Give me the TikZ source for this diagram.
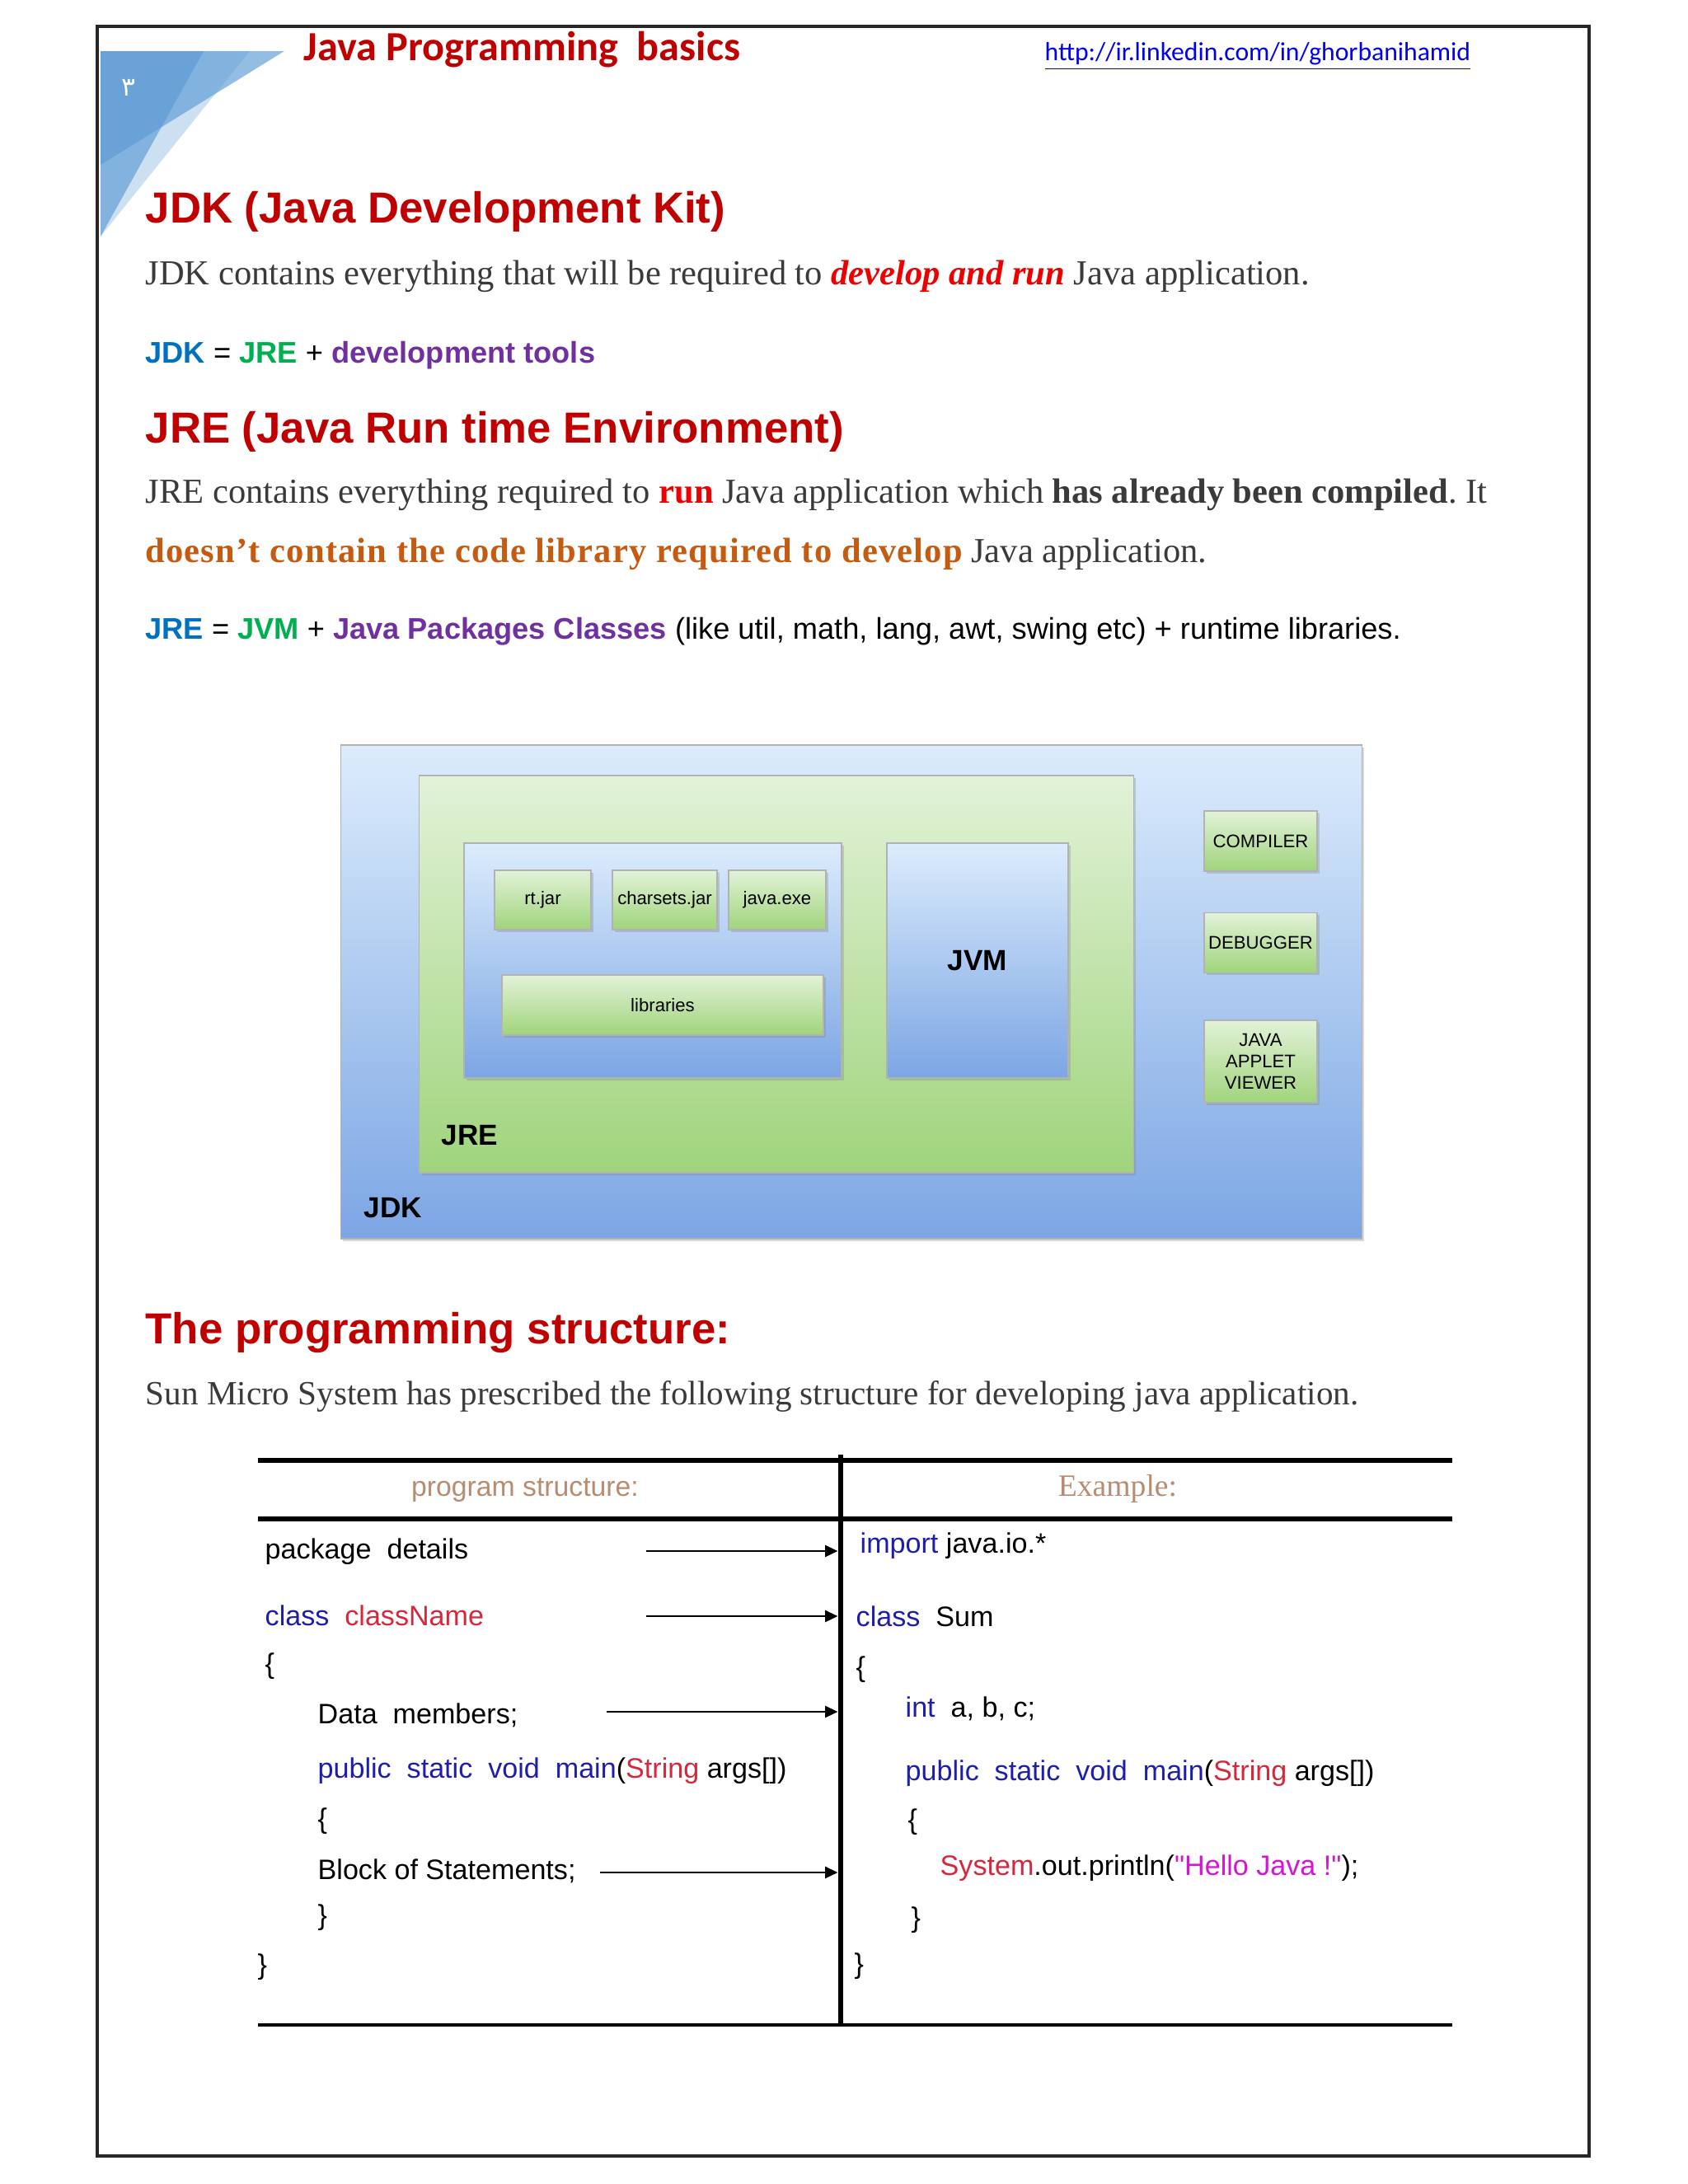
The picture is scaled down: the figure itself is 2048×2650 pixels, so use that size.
\documentclass[tikz,border=0pt]{standalone}
\usepackage{fontspec}
\setmainfont{Liberation Serif}
\setsansfont{Liberation Sans}
\newfontfamily\carlito{Carlito}
\newfontfamily\arabicfont[Script=Arabic]{DejaVu Sans}
\TeXXeTstate=1
\frenchspacing
\usetikzlibrary{arrows.meta,positioning,shadows}

\definecolor{headred}{RGB}{192,0,0}
\definecolor{brightred}{RGB}{236,0,0}
\definecolor{bodygray}{RGB}{58,58,58}
\definecolor{rustorange}{RGB}{197,90,17}
\definecolor{jdkblue}{RGB}{0,112,192}
\definecolor{jregreen}{RGB}{0,176,80}
\definecolor{toolpurple}{RGB}{112,48,160}
\definecolor{urlblue}{RGB}{0,0,238}
\definecolor{kwblue}{RGB}{30,30,170}
\definecolor{kwred}{RGB}{214,40,60}
\definecolor{strmagenta}{RGB}{214,20,214}
\definecolor{headtan}{RGB}{184,140,112}
\definecolor{skytop}{RGB}{220,236,252}
\definecolor{skybot}{RGB}{124,166,228}
\definecolor{leaftop}{RGB}{226,242,216}
\definecolor{leafbot}{RGB}{160,212,124}
\definecolor{cornerblue}{RGB}{91,155,213}

\tikzset{
  bodytext/.style={%
    anchor=base west,inner sep=0pt,
    font=\fontsize{12.1}{14}\selectfont,text=bodygray
  },
  heading/.style={%
    anchor=base west,inner sep=0pt,
    font=\sffamily\bfseries\fontsize{15}{18}\selectfont,text=headred
  },
  equation/.style={%
    anchor=base west,inner sep=0pt,
    font=\sffamily\fontsize{10.3}{12}\selectfont,text=black
  },
  skybox/.style={%
    draw=black!30,inner sep=0pt,
    top color=skytop,bottom color=skybot,
    drop shadow={shadow xshift=0.8pt,shadow yshift=-0.8pt,opacity=.3}
  },
  leafbox/.style={%
    skybox,top color=leaftop,bottom color=leafbot
  },
  tinybox/.style={%
    leafbox,align=center,
    font=\sffamily\fontsize{6.3}{7.4}\selectfont
  },
  biglabel/.style={%
    inner sep=0pt,font=\sffamily\bfseries\fontsize{10}{12}\selectfont
  },
  code/.style={%
    anchor=west,inner sep=0pt,
    font=\sffamily\fontsize{9.7}{12}\selectfont,text=black
  },
  rule/.style={line width=1.8pt,black},
  ptr/.style={line width=0.7pt,-{Triangle[length=4.4pt,width=4pt]},shorten >=1pt}
}

\begin{document}
\begin{tikzpicture}[x=0.01cm,y=-0.01cm]
\useasboundingbox (0,0) rectangle (2048,2650);
\fill[white] (0,0) rectangle (2048,2650);
\draw[line width=0.9pt,black!85] (118,32) rectangle (1928,2616);

% page corner
\fill[cornerblue,opacity=.65] (122,62) -- (345,62) -- (122,200) -- cycle;
\fill[cornerblue,opacity=.65] (122,62) -- (247,62) -- (122,287) -- cycle;
\fill[cornerblue,opacity=.3] (122,62) -- (303,62) -- (122,287) -- cycle;
\node[text=white,font=\arabicfont\fontsize{9}{10}\selectfont] (pgno) at (156,106) {\beginR ۳\endR};

\node[anchor=base west,inner sep=0pt,text=headred,font=\carlito\bfseries\fontsize{14.3}{16}\selectfont] (ttl) at (368,73) {Java Programming~ basics};
\node[anchor=base west,inner sep=0pt,text=urlblue,font=\carlito\fontsize{9}{11}\selectfont] (url) at (1267,73) {\underline{http://ir.linkedin.com/in/ghorbanihamid}};

% JDK
\node[heading] (hjdk) at (176,270) {JDK (Java Development Kit)};
\node[bodytext] (jdkline) at (176,345) {JDK contains everything that will be required to \textcolor{brightred}{\bfseries\itshape develop and run} Java application.};
\node[equation] (jdkeq) at (176,440) {\textbf{\textcolor{jdkblue}{JDK}} = \textbf{\textcolor{jregreen}{JRE}} + \textbf{\textcolor{toolpurple}{development tools}}};

% JRE
\node[heading] (hjre) at (176,537) {JRE (Java Run time Environment)};
\node[bodytext] (jreline) at (176,610) {JRE contains everything required to \textcolor{brightred}{\bfseries run} Java application which \textbf{has already been compiled}. It};
\node[bodytext] (jrelinetwo) at (176,682) {\textcolor{rustorange}{\bfseries\addfontfeature{LetterSpace=2.7}doesn’t contain the code library required to develop} Java application.};
\node[equation] (jreeq) at (176,775) {\textbf{\textcolor{jdkblue}{JRE}} = \textbf{\textcolor{jregreen}{JVM}} + \textbf{\textcolor{toolpurple}{Java Packages Classes}} (like util, math, lang, awt, swing etc) + runtime libraries.};

% diagram
\node[skybox,minimum width=123.8mm,minimum height=59.9mm] (jdk) at (1033,1203.5) {};
\node[leafbox,minimum width=86.6mm,minimum height=48.2mm] (jre) at (942,1182) {};
\node[skybox,minimum width=45.8mm,minimum height=28.5mm] (libset) at (792,1165.5) {};
\node[skybox,minimum width=22mm,minimum height=28.5mm,biglabel] (jvm) at (1186,1165.5) {JVM};
\node[tinybox,minimum width=11.7mm,minimum height=7.2mm] (rtjar) at (658.5,1092) {rt.jar};
\node[tinybox,minimum width=12.7mm,minimum height=7.2mm] (charsets) at (806.5,1092) {charsets.jar};
\node[tinybox,minimum width=11.8mm,minimum height=7.2mm] (javaexe) at (943,1092) {java.exe};
\node[tinybox,minimum width=39mm,minimum height=7.3mm] (libs) at (804,1219.5) {libraries};
\node[tinybox,minimum width=13.7mm,minimum height=7.3mm] (compiler) at (1529.5,1020.5) {COMPILER};
\node[tinybox,minimum width=13.7mm,minimum height=7.3mm] (debugger) at (1529.5,1144) {DEBUGGER};
\node[tinybox,minimum width=13.7mm,minimum height=10mm] (viewer) at (1529.5,1288) {JAVA\\APPLET\\VIEWER};
\node[biglabel,anchor=west] (jrelbl) at (535,1378) {JRE};
\node[biglabel,anchor=west] (jdklbl) at (441,1466) {JDK};

% structure
\node[heading] (hprog) at (176,1630) {The programming structure:};
\node[bodytext,font=\fontsize{11.7}{14}\selectfont] (sunline) at (176,1704) {Sun Micro System has prescribed the following structure for developing java application.};

\coordinate (tl) at (313,1772);
\coordinate (tr) at (1762,1772);
\coordinate (ml) at (313,1843);
\coordinate (mr) at (1762,1843);
\coordinate (bl) at (313,2457);
\coordinate (br) at (1762,2457);
\coordinate (vtop) at (1020,1765);
\coordinate (vbot) at (1020,2458);
\draw[rule] (tl) -- (tr);
\draw[rule] (ml) -- (mr);
\draw[rule,line width=1.3pt] (bl) -- (br);
\draw[rule,line width=1.9pt] (vtop) -- (vbot);

\node[inner sep=0pt,text=headtan,font=\sffamily\fontsize{9.6}{11}\selectfont] (colleft) at (637,1808) {program structure:};
\node[inner sep=0pt,text=headtan,font=\fontsize{10.7}{12}\selectfont] (colright) at (1356,1806) {Example:};

% left column
\node[code] (lpkg) at (321,1883) {package~ details};
\node[code] (lcls) at (321,1960) {\textcolor{kwblue}{class}~ \textcolor{kwred}{className}};
\node[code] (lbra) at (321,2022) {\{};
\node[code] (ldata) at (385,2081) {Data~ members;};
\node[code] (lmain) at (385,2149) {\textcolor{kwblue}{public~ static~ void~ main}(\textcolor{kwred}{String} args[])};
\node[code] (lbrb) at (385,2210) {\{};
\node[code] (lblock) at (385,2270) {Block of Statements;};
\node[code] (lbrc) at (385,2327) {\}};
\node[code] (lbrd) at (312,2387) {\}};

% right column
\node[code] (rimp) at (1043,1876) {\textcolor{kwblue}{import} java.io.*};
\node[code] (rcls) at (1038,1961) {\textcolor{kwblue}{class}~ Sum};
\node[code] (rbra) at (1038,2026) {\{};
\node[code] (rint) at (1098,2073) {\textcolor{kwblue}{int}~ a, b, c;};
\node[code] (rmain) at (1098,2152) {\textcolor{kwblue}{public~ static~ void~ main}(\textcolor{kwred}{String} args[])};
\node[code] (rbrb) at (1101,2211) {\{};
\node[code] (rsys) at (1140,2267) {\textcolor{kwred}{System}.out.println(\textcolor{strmagenta}{\textquotedbl Hello Java !\textquotedbl});};
\node[code] (rbrc) at (1105,2330) {\}};
\node[code] (rbrd) at (1036,2386) {\}};

\coordinate (apkg) at (784,1882);
\coordinate (acls) at (784,1961);
\coordinate (adata) at (736,2077);
\coordinate (ablock) at (728,2272);
\draw[ptr] (apkg) -- (apkg -| vtop);
\draw[ptr] (acls) -- (acls -| vtop);
\draw[ptr] (adata) -- (adata -| vtop);
\draw[ptr] (ablock) -- (ablock -| vtop);
\end{tikzpicture}
\end{document}
